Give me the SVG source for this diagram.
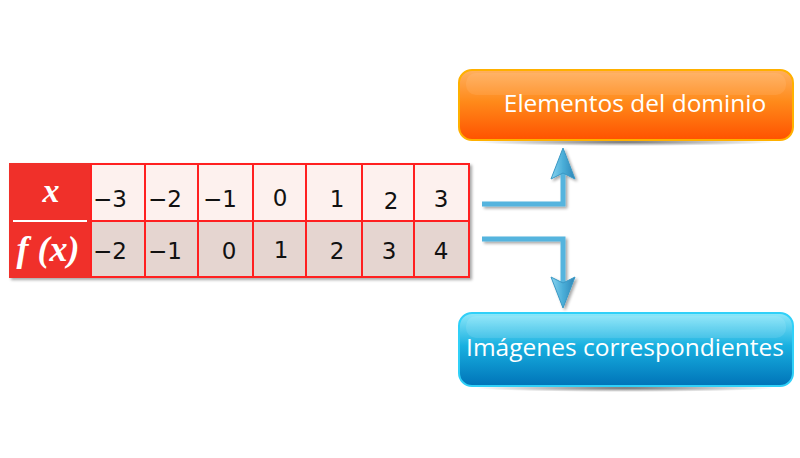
<svg xmlns="http://www.w3.org/2000/svg" width="800" height="458" viewBox="0 0 800 458">
<defs>
<linearGradient id="gOr" x1="0" y1="0" x2="0" y2="1">
<stop offset="0" stop-color="#ffb060"/>
<stop offset="0.45" stop-color="#ff8a1a"/>
<stop offset="1" stop-color="#ff5200"/>
</linearGradient>
<linearGradient id="gBl" x1="0" y1="0" x2="0" y2="1">
<stop offset="0" stop-color="#8ee8fa"/>
<stop offset="0.45" stop-color="#18b0e0"/>
<stop offset="1" stop-color="#0073b8"/>
</linearGradient>
<linearGradient id="gAr" x1="0" y1="0" x2="1" y2="0">
<stop offset="0" stop-color="#8ad4f0"/>
<stop offset="0.5" stop-color="#4aaed8"/>
<stop offset="1" stop-color="#2e86b8"/>
</linearGradient>
<radialGradient id="gSh" cx="0.5" cy="0.5" r="0.5">
<stop offset="0" stop-color="#000" stop-opacity="0.55"/>
<stop offset="1" stop-color="#000" stop-opacity="0"/>
</radialGradient>
<filter id="ds" x="-10%" y="-10%" width="130%" height="150%">
<feGaussianBlur in="SourceAlpha" stdDeviation="1.5"/>
<feOffset dx="1.5" dy="2"/>
<feComponentTransfer><feFuncA type="linear" slope="0.35"/></feComponentTransfer>
<feMerge><feMergeNode/><feMergeNode in="SourceGraphic"/></feMerge>
</filter>
</defs>
<style>
.cell1{fill:#fdf1ee;stroke:#ff2020;stroke-width:2}
.cell2{fill:#e5d5d0;stroke:#ff2020;stroke-width:2}
.num{font-family:"DejaVu Sans",Verdana,sans-serif;font-size:23px;fill:#111;text-anchor:middle}
.hdr{font-family:"Liberation Serif","Times New Roman",serif;font-weight:bold;font-style:italic;fill:#fff;text-anchor:middle}
.lbl{font-family:"Open Sans","Liberation Sans",sans-serif;font-size:24.5px;fill:#fff;text-anchor:middle}
.conn{fill:none;stroke:#55b4de;stroke-width:5;stroke-linejoin:miter}
.head{fill:url(#gAr);stroke:#3a98c4;stroke-width:1}
</style>
<rect width="800" height="458" fill="#fff"/>

<g id="table">
<rect x="9" y="163" width="461" height="115" fill="#ff2020" filter="url(#ds)"/>
<rect x="9" y="163" width="81" height="115" fill="#f0302a"/>
<line x1="13" y1="221" x2="87" y2="221" stroke="#fff" stroke-width="2"/>
<text class="hdr" x="51" y="202" font-size="34">x</text>
<text class="hdr" x="48" y="261" font-size="36">f (x)</text>
<rect class="cell1" x="91" y="164" width="54" height="57"/>
<rect class="cell1" x="145" y="164" width="53" height="57"/>
<rect class="cell1" x="198" y="164" width="55" height="57"/>
<rect class="cell1" x="253" y="164" width="53" height="57"/>
<rect class="cell1" x="306" y="164" width="56" height="57"/>
<rect class="cell1" x="362" y="164" width="52" height="57"/>
<rect class="cell1" x="414" y="164" width="55" height="57"/>
<rect class="cell2" x="91" y="221" width="54" height="56"/>
<rect class="cell2" x="145" y="221" width="53" height="56"/>
<rect class="cell2" x="198" y="221" width="55" height="56"/>
<rect class="cell2" x="253" y="221" width="53" height="56"/>
<rect class="cell2" x="306" y="221" width="56" height="56"/>
<rect class="cell2" x="362" y="221" width="52" height="56"/>
<rect class="cell2" x="414" y="221" width="55" height="56"/>
<text class="num" x="110" y="207">−3</text>
<text class="num" x="165" y="207">−2</text>
<text class="num" x="220" y="207">−1</text>
<text class="num" x="280" y="206">0</text>
<text class="num" x="337" y="207">1</text>
<text class="num" x="391" y="209">2</text>
<text class="num" x="441" y="207">3</text>
<text class="num" x="110" y="259">−2</text>
<text class="num" x="165" y="259">−1</text>
<text class="num" x="229" y="259">0</text>
<text class="num" x="281" y="258">1</text>
<text class="num" x="337" y="259">2</text>
<text class="num" x="389" y="259">3</text>
<text class="num" x="441" y="259">4</text>
</g>

<g id="connectors" filter="url(#ds)">
<path class="conn" d="M482 204 H563 V172"/>
<path class="head" d="M563 148 L575 179 L563 173 L551 179 Z"/>
<path class="conn" d="M482 239 H563 V284"/>
<path class="head" d="M563 308 L575 277 L563 283 L551 277 Z"/>
</g>

<g id="dominio">
<ellipse cx="625" cy="142" rx="150" ry="4" fill="url(#gSh)"/>
<rect x="459" y="70" width="334" height="70" rx="13" fill="url(#gOr)" stroke="#ffb000" stroke-width="2"/>
<rect x="466" y="73" width="320" height="22" rx="10" fill="#fff" opacity="0.08"/>
<text class="lbl" x="635" y="112">Elementos del dominio</text>
</g>

<g id="imagenes">
<ellipse cx="625" cy="388" rx="150" ry="4" fill="url(#gSh)"/>
<rect x="459" y="313" width="334" height="73" rx="13" fill="url(#gBl)" stroke="#30d0f8" stroke-width="2"/>
<rect x="466" y="316" width="320" height="22" rx="10" fill="#fff" opacity="0.1"/>
<text class="lbl" x="625" y="356">Imágenes correspondientes</text>
</g>
</svg>
